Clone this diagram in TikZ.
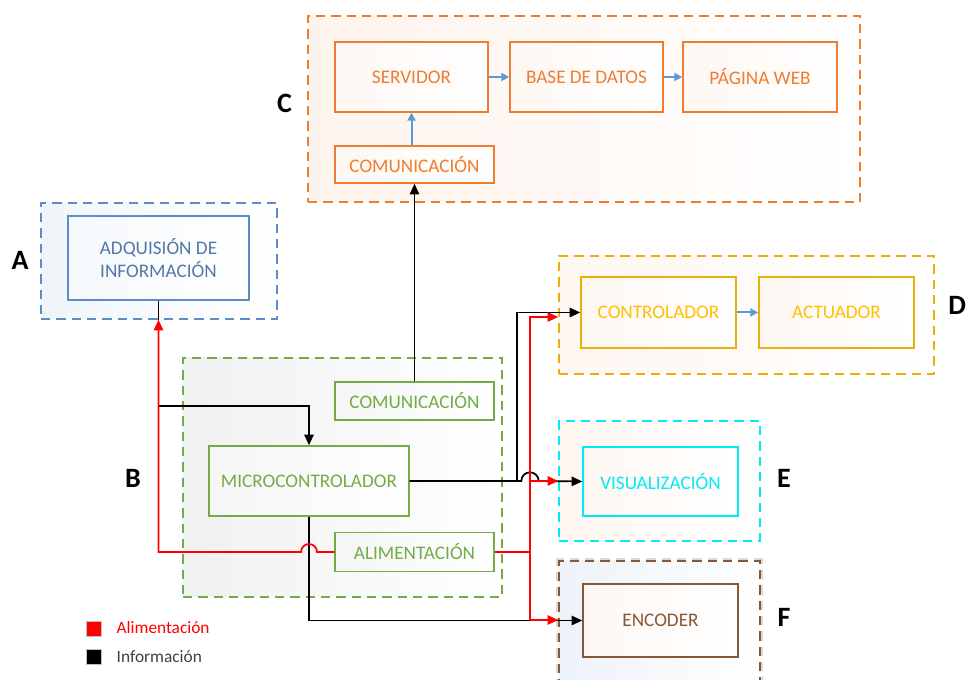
\documentclass[tikz,border=0pt]{standalone}
\usepackage{fontspec}
\setmainfont{Carlito}
\usetikzlibrary{arrows.meta}

\definecolor{naranja}{RGB}{237,125,49}
\definecolor{azul}{RGB}{91,141,201}
\definecolor{azultexto}{RGB}{84,120,165}
\definecolor{verde}{RGB}{112,173,71}
\definecolor{oro}{RGB}{232,176,10}
\definecolor{orotexto}{RGB}{255,192,0}
\definecolor{cian}{RGB}{0,235,245}
\definecolor{marron}{RGB}{133,88,56}
\definecolor{flecha}{RGB}{91,155,213}
\definecolor{gristexto}{RGB}{64,64,64}

\tikzset{
  grupo/.style={draw=#1, dash pattern=on 7pt off 4.5pt, line width=1.1pt,
    left color=#1!9, right color=white, inner sep=0pt},
  bloque/.style={draw=#1, text=#1, line width=1.1pt, left color=#1!6,
    right color=white, align=center, inner sep=0pt,
    font=\fontsize{14.4}{17}\selectfont},
  boxsize/.style 2 args={minimum width=#1*0.75pt, minimum height=#2*0.75pt},
  letra/.style={inner sep=0pt, font=\fontsize{21}{24}\selectfont\bfseries},
  info/.style={draw=black, line width=1.3pt},
  power/.style={draw=red, line width=1.3pt},
  enlace/.style={draw=flecha, line width=1.5pt, -{Triangle[length=6pt,width=6pt]}},
  leyenda/.style={inner sep=0pt, minimum size=11.25pt, draw=black!25}
}

\begin{document}
\begin{tikzpicture}[x=0.75pt, y=0.75pt, >={Triangle[length=8pt,width=7pt]}]
\useasboundingbox (0,0) rectangle (966,680);

% Grupo C
\node[grupo=naranja, boxsize={552}{186}] (grpC) at (584,571) {};
\node[bloque=naranja, boxsize={153}{70}] (serv) at (411.5,603) {SERVIDOR};
\node[bloque=naranja, boxsize={153}{70}] (bd) at (586.5,603) {BASE DE DATOS};
\node[bloque=naranja, boxsize={154}{70}] (web) at (760,603) {PÁGINA WEB};
\node[bloque=naranja, boxsize={159}{37}] (comC) at (414.5,515.5) {COMUNICACIÓN};
\node[letra] (labC) at (284.5,577) {C};

% Grupo A
\node[grupo=azul, boxsize={236}{116}] (grpA) at (159,419) {};
\node[bloque=azul, text=azultexto, boxsize={181}{84}] (adq) at (158.5,422) {ADQUISIÓN DE\\INFORMACIÓN};
\node[letra] (labA) at (20,420) {A};

% Grupo B
\node[grupo=verde, left color=verde!7!black!6, boxsize={319}{239}] (grpB) at (342.5,202.5) {};
\node[bloque=verde, left color=verde!5!black!4, boxsize={159}{38}] (comB) at (414.5,279) {COMUNICACIÓN};
\node[bloque=verde, left color=verde!5!black!4, boxsize={200}{70}] (micro) at (309,199) {MICROCONTROLADOR};
\node[bloque=verde, left color=verde!5!black!4, boxsize={159}{39}] (alim) at (414.5,128) {ALIMENTACIÓN};
\node[letra] (labB) at (133,202) {B};

% Grupo D
\node[grupo=oro, left color=naranja!7, boxsize={375}{118}] (grpD) at (746.5,365) {};
\node[bloque=oro, text=orotexto, left color=naranja!6, boxsize={155}{71}] (ctrl) at (658.5,367.5) {CONTROLADOR};
\node[bloque=oro, text=orotexto, left color=naranja!6, boxsize={155}{71}] (act) at (836.5,367.5) {ACTUADOR};
\node[letra, anchor=west] (labD) at (948,375) {D};

% Grupo E
\node[grupo=cian, left color=naranja!7, boxsize={201}{120}] (grpE) at (659.5,199) {};
\node[bloque=cian, left color=naranja!6, boxsize={155}{69}] (vis) at (660.5,198.5) {VISUALIZACIÓN};
\node[letra] (labE) at (784,202) {E};

% Grupo F
\node[grupo=marron, left color=azul!11, preaction={draw=black!15, line width=4pt},
  boxsize={201}{124}] (grpF) at (659.5,57) {};
\node[bloque=marron, left color=naranja!6, boxsize={155}{73}] (enc) at (660.5,59.5) {ENCODER};
\node[letra] (labF) at (784,63) {F};

% Enlaces internos
\draw[enlace] (serv) -- (bd);
\draw[enlace] (bd) -- (web);
\draw[enlace] (serv.south |- comC.north) -- (serv.south);
\draw[enlace] (ctrl) -- (act);

% Informacion
\coordinate (ramal) at (517,199);
\coordinate (busD) at (530,363);
\coordinate (busE) at (530,199);
\coordinate (busF) at (530,60);

\draw[info,->] (adq.south) -- ++(0,-105) -| (micro.north);
\draw[info,->] (comB.north) -- (comC.south);
\draw[info,->] (micro.east) -- ([xshift=-6.5pt]busE)
  arc[start angle=180, end angle=0, radius=6.5pt] -- (vis.west);
\draw[info,->] (ramal) |- (ctrl.west);
\draw[info,->] (micro.south) |- (enc.west);

% Alimentacion
\draw[power,->] (alim.west) -- ([xshift=6pt]micro.south |- alim.west)
  arc[start angle=0, end angle=180, radius=6pt] -| (adq.south |- grpA.south);
\draw[power] (alim.east) -- (busF |- alim.east);
\draw[power,->] (busF) -- (busD) -- (busD -| grpD.west);
\draw[power,->] (busE) -- (busE -| grpE.west);
\draw[power,->] (busF) -- (busF -| grpF.west);

% Leyenda
\node[leyenda, fill=red] (leyR) at (93.5,51) {};
\node[anchor=west, text=red, font=\fontsize{13}{15}\selectfont] (txtR) at (112,52) {Alimentación};
\node[leyenda, fill=black] (leyN) at (93.5,23) {};
\node[anchor=west, text=gristexto, font=\fontsize{13}{15}\selectfont] (txtN) at (112,23) {Información};

\end{tikzpicture}
\end{document}
